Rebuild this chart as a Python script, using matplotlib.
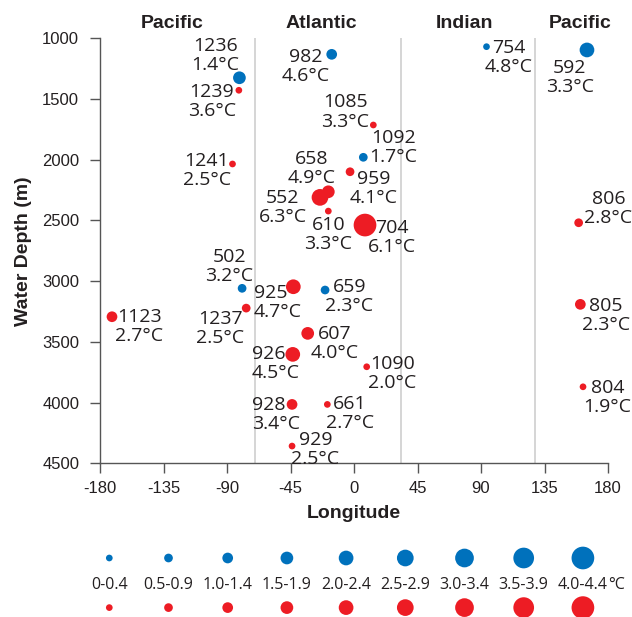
import matplotlib
matplotlib.use("Agg")
import matplotlib.pyplot as plt
import numpy as np

plt.rcParams['axes.unicode_minus'] = False
plt.rcParams['font.family'] = ['Liberation Sans', 'DejaVu Sans']
plt.rcParams['xtick.labelsize'] = 12
plt.rcParams['ytick.labelsize'] = 12

# ---------------- data ----------------
sites = ['1236', '1239', '1241', '982', '754', '592', '1085', '1092', '658',
         '959', '552', '610', '704', '806', '502', '925', '659', '1123',
         '1237', '607', '926', '928', '661', '929', '1090', '805', '804']
longitude = [-81.2, -81.6, -86.1, -15.8, 93.9, 165.1, 13.7, 6.6, -18.2,
             -2.8, -24.1, -18.2, 7.8, 159.2, -79.3, -43.0, -20.5, -171.5,
             -76.4, -32.8, -43.4, -43.9, -18.9, -43.9, 9.0, 160.4, 162.3]
depth = [1325, 1428, 2035, 1132, 1069, 1096, 1714, 1980, 2264,
         2099, 2310, 2423, 2538, 2519, 3059, 3046, 3073, 3293,
         3222, 3430, 3603, 4015, 4015, 4358, 3705, 3191, 3870]
temperature = [1.4, 3.6, 2.5, 4.6, 4.8, 3.3, 3.3, 1.7, 4.9,
               4.1, 6.3, 3.3, 6.1, 2.8, 3.2, 4.7, 2.3, 2.7,
               2.5, 4.0, 4.5, 3.4, 2.7, 2.5, 2.0, 2.3, 1.9]
group = ['blue', 'red', 'red', 'blue', 'blue', 'blue', 'red', 'blue', 'red',
         'red', 'red', 'red', 'red', 'red', 'blue', 'red', 'blue', 'red',
         'red', 'red', 'red', 'red', 'red', 'red', 'red', 'red', 'red']
magnitude = [1.7, 0.2, 0.2, 1.2, 0.2, 2.2, 0.2, 0.7, 1.7,
             0.7, 2.7, 0.2, 4.2, 0.7, 0.7, 2.2, 0.7, 1.2,
             0.7, 1.7, 2.2, 1.2, 0.2, 0.2, 0.2, 1.2, 0.2]

legend_labels = ['0-0.4', '0.5-0.9', '1.0-1.4', '1.5-1.9', '2.0-2.4',
                 '2.5-2.9', '3.0-3.4', '3.5-3.9', '4.0-4.4']
legend_values = [0.2, 0.7, 1.2, 1.7, 2.2, 2.7, 3.2, 3.7, 4.2]

basins = ['Pacific', 'Atlantic', 'Indian', 'Pacific']
basin_label_lon = [-129.0, -23.0, 78.0, 160.0]
basin_bounds = [-70.5, 33.0, 128.0]

# ---------------- layout / style ----------------
# label offsets in pixels relative to dot (dx, dy of first-line baseline, ha)
label_layout = {
    '1236': (-23.8, 26.0, 'center'), '1239': (-27.2, -7.3, 'center'),
    '1241': (-25.8, -2.7, 'center'), '982': (-26.4, -8.0, 'center'),
    '754': (22.0, -7.3, 'center'), '592': (-17.1, -24.0, 'center'),
    '1085': (-27.8, 16.7, 'center'), '1092': (30.2, 13.3, 'center'),
    '658': (-16.8, 26.7, 'center'), '959': (23.5, -13.3, 'center'),
    '552': (-37.0, -6.7, 'center'), '610': (0.0, -19.7, 'center'),
    '704': (27.3, -8.3, 'center'), '806': (29.8, 17.7, 'center'),
    '502': (-13.0, 25.6, 'center'), '925': (-39.3, -11.6, 'left'),
    '659': (24.4, -2.7, 'center'), '1123': (27.3, -6.0, 'center'),
    '1237': (-26.0, -17.0, 'center'), '607': (26.6, -6.0, 'center'),
    '926': (-41.0, -5.7, 'left'), '928': (-40.3, -6.4, 'left'),
    '661': (22.4, -5.0, 'center'), '929': (23.5, 0.0, 'center'),
    '1090': (25.4, -3.3, 'center'), '805': (25.3, -7.4, 'center'),
    '804': (24.3, -7.3, 'center'),
}
LINE_GAP = 18.3  # px between baselines
COLORS = {'blue': '#0071BC', 'red': '#ED1C24'}
TEXT = '#231F20'
DPI = 100
W, H = 632, 617
LABEL_FONT = ['Open Sans', 'DejaVu Sans']


def marker_area(v):
    b = np.floor(np.asarray(v) / 0.5 + 1e-9)
    d_px = 6.7 + 2.0 * b
    return (d_px * 72.0 / DPI) ** 2


fig = plt.figure(figsize=(W / DPI, H / DPI), dpi=DPI)
fig.patch.set_facecolor('white')

ax_l, ax_r, ax_t, ax_b = 100, 608, 38.3, 463.3
ax = fig.add_axes([ax_l / W, 1 - ax_b / H, (ax_r - ax_l) / W, (ax_b - ax_t) / H])

ax.set_xlim(-180, 180)
ax.set_ylim(4500, 1000)
ax.set_xticks(np.arange(-180, 181, 45))
ax.set_yticks(np.arange(1000, 4501, 500))
for s in ['top', 'right']:
    ax.spines[s].set_visible(False)
for s in ['left', 'bottom']:
    ax.spines[s].set_color('#555555')
    ax.spines[s].set_linewidth(1.0)
ax.tick_params(axis='both', direction='out', length=7, width=1.0,
               color='#555555', labelcolor=TEXT)
ax.tick_params(axis='y', pad=8)
ax.tick_params(axis='x', pad=5.5)

for b in basin_bounds:
    ax.axvline(b, color='#D2D2D2', lw=1.3, zorder=0)

for name, lon in zip(basins, basin_label_lon):
    ax.text(lon, 1.0 + 10.0 / (ax_b - ax_t), name,
            transform=ax.get_xaxis_transform(), ha='center', va='baseline',
            fontsize=14, fontweight='bold', color=TEXT)

ax.scatter(longitude, depth, s=marker_area(magnitude),
           c=[COLORS[g] for g in group], linewidths=0, zorder=3)

for site, lon, dep, t in zip(sites, longitude, depth, temperature):
    dx, dy, ha = label_layout[site]
    ax.annotate(f"{site}\n{t:.1f}°C", xy=(lon, dep), xytext=(dx, dy - LINE_GAP),
                textcoords='offset pixels', ha=ha, va='baseline', ma=ha,
                fontsize=14, family=LABEL_FONT, color=TEXT,
                linespacing=1.08, zorder=4)

ax.set_xlabel('Longitude', fontsize=14, fontweight='bold', color=TEXT)
ax.xaxis.set_label_coords(0.5, (ax_b - 505.0) / (ax_b - ax_t))
ax.set_ylabel('Water Depth (m)', fontsize=14, fontweight='bold', color=TEXT)
ax.yaxis.set_label_coords((32.0 - ax_l) / (ax_r - ax_l), 0.5)

# ---------------- size legend ----------------
step = 59.2
row = 24.8
lg_left = 109.3 - step / 2
lg_top = 558.0 - row / 2
lax = fig.add_axes([lg_left / W, 1 - (lg_top + 3 * row) / H, 9 * step / W, 3 * row / H])
lax.set_xlim(-0.5, 8.5)
lax.set_ylim(-0.5, 2.5)
lax.axis('off')
idx = np.arange(len(legend_values))
lax.scatter(idx, np.full(len(idx), 2), s=marker_area(legend_values),
            c=COLORS['blue'], linewidths=0, clip_on=False)
lax.scatter(idx, np.full(len(idx), 0), s=marker_area(legend_values),
            c=COLORS['red'], linewidths=0, clip_on=False)
for i, lab in enumerate(legend_labels):
    t = lax.text(i, 1, lab, ha='center', va='center_baseline', fontsize=11.5,
                 family=LABEL_FONT, color=TEXT)
    if i == len(legend_labels) - 1:
        lax.annotate('°C', xy=(1, 0), xycoords=t, ha='left', va='bottom',
                     fontsize=11.5, family=LABEL_FONT, color=TEXT)

fig.savefig('out.png', dpi=DPI, facecolor='white')
